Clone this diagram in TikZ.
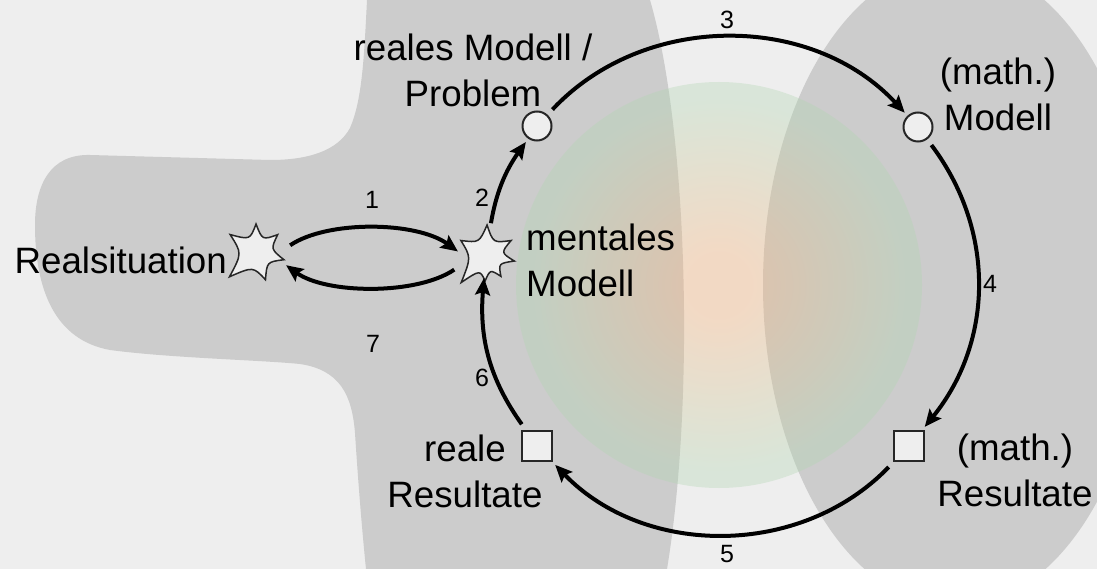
\documentclass[tikz,border=0pt]{standalone}
\usepackage{fontspec}
\setmainfont{Liberation Sans}
\usetikzlibrary{arrows.meta, calc}

\definecolor{paper}{HTML}{EEEEEE}
\definecolor{zone}{HTML}{CCCCCC}
\definecolor{glowin}{RGB}{252,180,120}
\definecolor{glowout}{RGB}{178,215,178}
\definecolor{nodefill}{HTML}{EEEEEE}
\pgfdeclareradialshading{glow}{\pgfpoint{0bp}{0bp}}{color(0bp)=(glowin); color(4bp)=(glowin);
  color(23bp)=(glowout); color(25bp)=(glowout); color(50bp)=(glowout)}

\begin{document}
\begin{tikzpicture}[x=1pt, y=-1pt,
    flow/.style={line width=4pt, -{Stealth[length=17pt, width=15pt, inset=3pt]},
                 shorten <=7pt, shorten >=4pt},
    dot/.style={circle, draw=black!85, line width=2pt, fill=nodefill,
                minimum size=29pt, inner sep=0pt},
    box/.style={rectangle, draw=black!85, line width=2pt, fill=nodefill,
                minimum size=30pt, inner sep=0pt},
    burst/.style={circle, minimum size=46pt, inner sep=0pt},
    burstline/.style={draw=black!85, line width=1.5pt, fill=nodefill},
    lbl/.style={font=\fontsize{36.7}{46}\selectfont, inner sep=0pt},
    num/.style={font=\fontsize{25}{30}\selectfont, inner sep=0pt}]
  \useasboundingbox (0,0) rectangle (1097,569);
  \fill[paper] (0,0) rectangle (1097,569);

  % grey zones
  \fill[zone] (367,0) .. controls (364,60) and (362,100) .. (350,128)
    .. controls (338,150) and (310,160) .. (270,160)
    -- (90,155)
    .. controls (50,154) and (35,185) .. (35,225)
    .. controls (35,290) and (55,340) .. (110,350)
    .. controls (170,358) and (260,360) .. (300,364)
    .. controls (340,370) and (352,395) .. (355,433)
    .. controls (358,480) and (362,530) .. (366,569)
    -- (667,569) .. controls (695,400) and (688,130) .. (650,0) -- cycle;
  \fill[zone] (955,285) ellipse [x radius=192, y radius=322];
  \shade[shading=glow, opacity=0.35] (719,285) circle (203);

  % stations
  \node[burst] (rs) at (257,252) {};
  \node[burst] (ms) at (486,255) {};
  \node[dot] (rm) at (537,126) {};
  \node[dot] (mm) at (918,127) {};
  \node[box] (mr) at (909,446) {};
  \node[box] (rr) at (537,446) {};

  \begin{scope}[shift={(rs)}]
    \path[burstline] (92:28pt) .. controls (120:14pt) .. (147:32pt)
      .. controls (185:15pt) .. (222:37pt) .. controls (255:15pt) .. (287:29pt)
      .. controls (315:14pt) .. (344:28pt) .. controls (12:14pt) .. (40:27pt)
      .. controls (66:13pt) .. (92:28pt) -- cycle;
  \end{scope}
  \begin{scope}[shift={(ms)}]
    \path[burstline] (88:30pt) .. controls (119:14pt) .. (150:29pt)
      .. controls (189:15pt) .. (228:37pt) .. controls (248:16pt) .. (268:26pt)
      .. controls (286:15pt) .. (305:26pt) .. controls (326:15pt) .. (348:29pt)
      .. controls (9:15pt) .. (30:29pt) .. controls (59:14pt) .. (88:30pt) -- cycle;
  \end{scope}

  % cycle
  \draw[flow, shorten <=12pt, shorten >=6pt] (rs.east) to[bend left=35, looseness=0.8] (ms.west);
  \draw[flow, shorten <=12pt, shorten >=9pt] (ms.200) to[bend left=35, looseness=0.8] (rs.-20);
  \draw[flow, shorten <=9pt] (ms) to[bend left=13] (rm);
  \draw[flow] (rm) to[bend left=47] (mm);
  \draw[flow] (mm) to[bend left=38] (mr);
  \draw[flow] (mr) to[bend left=46] (rr);
  \draw[flow, shorten >=0pt] (rr) to[bend left=20] (ms);

  \node[num] (n1) at (372,200) {1};
  \node[num] (n2) at (482,198) {2};
  \node[num] (n3) at (727,20) {3};
  \node[num] (n4) at (990,284) {4};
  \node[num] (n5) at (727,554) {5};
  \node[num] (n6) at (482,378) {6};
  \node[num] (n7) at (373,344) {7};

  % texts
  \node[lbl, anchor=base east] (rsl) at (227,273) {Realsituation};
  \node[lbl, anchor=base west, align=left] (msl) at (526,296) {mentales\\Modell};
  \node[lbl, anchor=base, align=center] (rml) at (473,107) {reales Modell /\\Problem};
  \node[lbl, anchor=base, align=center] (mml) at (998,131) {(math.)\\Modell};
  \node[lbl, anchor=base, align=center] (mrl) at (1015,506) {(math.)\\Resultate};
  \node[lbl, anchor=base, align=center] (rrl) at (465,507) {reale\\Resultate};
\end{tikzpicture}
\end{document}
